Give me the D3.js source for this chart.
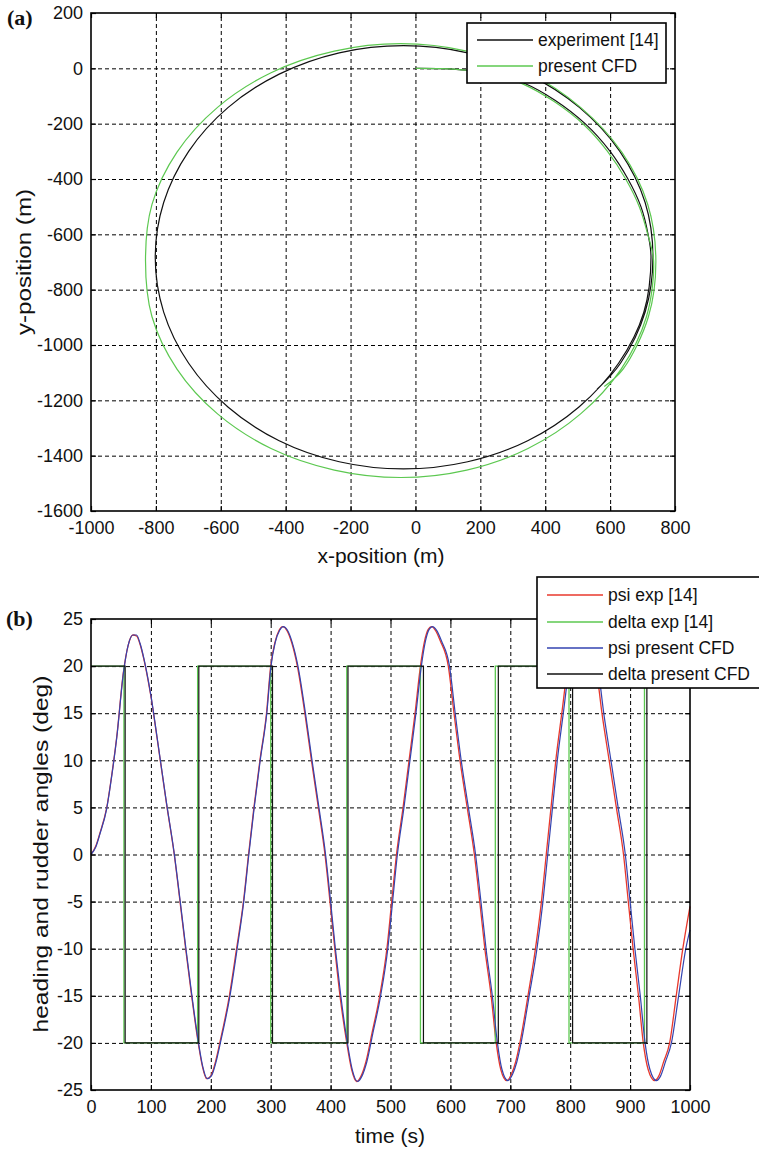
<!DOCTYPE html>
<html>
<head>
<meta charset="utf-8">
<script src="https://cdn.jsdelivr.net/npm/d3@7/dist/d3.min.js"></script>
<style>
body { margin:0; background:#fff; }
svg { display:block; font-family:"Liberation Sans", Arial, sans-serif; }
.grid line { stroke:#000; stroke-width:1; stroke-dasharray:4,3; }
.grid path { display:none; }
.ax path { display:none; }
.ax line { stroke:#000; stroke-width:1.2; }
.ax text { font-size:18px; fill:#111; }
</style>
</head>
<body>
<svg id="chart" width="759" height="1152"></svg>
<script>
// ---- (a) turning circle track, x/y in metres ----
var xTicksA = [-1000,-800,-600,-400,-200,0,200,400,600,800];
var yTicksA = [-1600,-1400,-1200,-1000,-800,-600,-400,-200,0,200];

var expTrack = [[0,0],[80,-1],[160,-7],[250,-23],[332,-52],[430,-115],[523,-200],[600,-300],[655,-400],[695,-500],[717,-600],[726,-683],
  [704,-881],[626,-1066],[504,-1224],[346,-1346],[161,-1422],[-37,-1448],[-235,-1422],[-420,-1346],[-578,-1224],[-699,-1066],
  [-776,-881],[-802,-683],[-776,-485],[-699,-300],[-578,-142],[-420,-21],[-235,56],[-37,82],[161,56],[346,-21],[506,-142],
  [630,-300],[708,-485],[732,-683],[708,-881],[632,-1066],[560,-1160]];

var cfdTrack = [[0,0],[80,-1],[160,-7],[250,-25],[332,-57],[430,-122],[520,-205],[592,-300],[648,-400],[690,-500],[716,-600],[734,-695],
  [712,-898],[634,-1087],[509,-1249],[347,-1374],[158,-1452],[-45,-1479],[-250,-1452],[-445,-1374],[-610,-1249],[-735,-1087],
  [-812,-898],[-832,-695],[-812,-492],[-735,-303],[-610,-141],[-445,-16],[-250,62],[-45,89],[158,62],[347,-16],[509,-141],
  [636,-303],[716,-492],[741,-695],[718,-898],[640,-1087],[582,-1150]];

// ---- (b) zig-zag manoeuvre ----
var timeTicks = [0,100,200,300,400,500,600,700,800,900,1000];
var angleTicks = [-25,-20,-15,-10,-5,0,5,10,15,20,25];

var psiExp = [[0,0],[8,0.9],[15,2.3],[26,4.9],[35,8.6],[43,12.5],[54,19.3],[62,22.2],[70,23.3],[76,23.2],[82,22.3],[88,20.8],[95,18.6],
  [100,16.8],[110,12.5],[126,5.4],[139,0],[148.6,-5],[158,-10],[168,-15],[179,-20],[186,-22.5],[193,-23.8],[200,-23.5],[207,-22.2],[215,-20],[231,-15],
  [243,-10],[254.5,-5],[263,0],[272,5],[282,10],[293,15],[300,20],[307,22.5],[314,23.8],[320,24.2],[327,23.8],[335,22.5],[344.5,20],
  [357,15],[368,10],[379.5,5],[390.6,0],[399,-5],[407,-10],[415.7,-15],[427,-20],[435,-22.8],[443.5,-24.1],[451,-23.5],[459,-22],
  [469,-19],[482,-15],[494,-10],[502,-5],[510,0],[521,5],[531,10],[541,15],[550,20],[557,22.7],[563,23.9],[568.6,24.2],[575,23.8],
  [583,22.7],[596.5,20],[606,15],[616,10],[628,5],[640,0],[649,-5],[657.5,-10],[668,-15],[676.5,-20],[684,-22.8],[694,-24],
  [702,-23.3],[709,-22],[716,-20],[729.5,-15],[742,-10],[752,-5],[760,0],[768,5],[776,10],[786,15],[796,20],[804,22.6],[812,23.9],
  [819,24.1],[826,23.8],[834,22.6],[843,20],[853,15],[865,10],[877,5],[889,0],[897,-5],[905,-10],[914,-15],[922,-20],[930,-22.8],
  [941,-24],[948,-23.5],[956,-22],[966,-20],[977,-15],[988,-10],[1000,-5.5]];

var psiCfd = [[0,0],[8,0.8],[15,2.2],[26,4.8],[35,8.5],[43,12.4],[54,19.2],[62,22.2],[70,23.3],[76,23.3],[82,22.4],[88,20.9],[95,18.7],
  [100,16.9],[110,12.6],[126,5.5],[139,0.1],[149,-5],[158.5,-10],[168.5,-15],[179.5,-20],[186.5,-22.5],[194,-23.8],[201,-23.5],[208,-22.2],[216,-20],[232,-15],
  [244,-10],[255,-5],[263.5,0],[272.5,5],[282.5,10],[293.5,15],[300.5,20],[307.5,22.5],[315,23.8],[321,24.2],[328,23.8],[336,22.5],[345.5,20],
  [358,15],[369,10],[380.5,5],[391.6,0],[400,-5],[408,-10],[417,-15],[428,-20],[436,-22.8],[445,-24.1],[452.5,-23.5],[460.5,-22],
  [470.5,-19],[483.5,-15],[495.5,-10],[503.5,-5],[511.5,0],[522.5,5],[532.5,10],[542.5,15],[551.5,20],[558.5,22.7],[564.5,23.9],[570,24.2],[577,23.8],
  [585,22.7],[598.5,20],[608,15],[618,10],[630,5],[642,0],[651,-5],[659.5,-10],[670,-15],[678.5,-20],[686,-22.8],[696,-24],
  [704,-23.3],[711,-22],[718,-20],[731.5,-15],[744.5,-10],[754.5,-5],[762.5,0],[770.5,5],[778.5,10],[788.5,15],[798.5,20],[806.5,22.6],[814.5,23.9],
  [821.5,24.1],[828.5,23.8],[837,22.6],[846,20],[856,15],[868,10],[880,5],[892,0],[900,-5],[908,-10],[917,-15],[925,-20],[933,-22.8],
  [944,-24],[951,-23.5],[959,-22],[969,-20],[981,-15],[993,-10],[1000,-8]];

// rudder angle switches [time, new angle]
var deltaExp = [[0,20],[55,-20],[178,20],[300,-20],[427,20],[550,-20],[675,20],[798,-20],[924,20],[1000,20]];
var deltaCfd = [[0,20],[57,-20],[180,20],[303,-20],[429,20],[555,-20],[680,20],[804,-20],[928,20],[1000,20]];

var svg = d3.select('#chart');
var fmt = function(d){ return String(d); };   // plain hyphen minus like the original

function frame(g, x, y, xt, yt) {
	var x0 = x.range()[0], x1 = x.range()[1], y0 = y.range()[0], y1 = y.range()[1];
	g.append('g').attr('class','grid').attr('transform','translate(0,'+y0+')')
		.call(d3.axisBottom(x).tickValues(xt.slice(1,-1)).tickSize(-(y0-y1)).tickFormat(''));
	g.append('g').attr('class','grid').attr('transform','translate('+x0+',0)')
		.call(d3.axisLeft(y).tickValues(yt.slice(1,-1)).tickSize(-(x1-x0)).tickFormat(''));
}

function axes(g, x, y, xt, yt) {
	var x0 = x.range()[0], x1 = x.range()[1], y0 = y.range()[0], y1 = y.range()[1];
	g.append('g').attr('class','ax').attr('transform','translate(0,'+y0+')')
		.call(d3.axisBottom(x).tickValues(xt).tickSize(-5).tickPadding(10).tickFormat(fmt));
	g.append('g').attr('class','ax').attr('transform','translate(0,'+y1+')')
		.call(d3.axisTop(x).tickValues(xt).tickSize(-5).tickFormat(''));
	g.append('g').attr('class','ax').attr('transform','translate('+x0+',0)')
		.call(d3.axisLeft(y).tickValues(yt).tickSize(-5).tickPadding(8).tickFormat(fmt));
	g.append('g').attr('class','ax').attr('transform','translate('+x1+',0)')
		.call(d3.axisRight(y).tickValues(yt).tickSize(-5).tickFormat(''));
	g.selectAll('.ax text').attr('font-family','"Liberation Sans", Arial, sans-serif');
	g.append('rect').attr('x',x0).attr('y',y1).attr('width',x1-x0).attr('height',y0-y1)
		.attr('fill','none').attr('stroke','#000').attr('stroke-width',1.6);
}

function legend(g, x, y, w, h, items) {
	g.append('rect').attr('x',x).attr('y',y).attr('width',w).attr('height',h)
		.attr('fill','#fff').attr('stroke','#000').attr('stroke-width',1.6);
	items.forEach(function(it, i) {
		var yy = y + it.dy;
		g.append('line').attr('x1',x+10).attr('x2',x+66).attr('y1',yy).attr('y2',yy)
			.attr('stroke',it.color).attr('stroke-width',1.3);
		g.append('text').attr('x',x+71).attr('y',yy).attr('dy','0.35em')
			.attr('font-size','17.5px').attr('fill','#111').text(it.label);
	});
}

// ---------- panel (a) ----------
var xA = d3.scaleLinear().domain([-1000,800]).range([91,675]);
var yA = d3.scaleLinear().domain([-1600,200]).range([511,13]);
var gA = svg.append('g');
frame(gA, xA, yA, xTicksA, yTicksA);

var lineA = d3.line().x(function(d){ return xA(d[0]); }).y(function(d){ return yA(d[1]); })
	.curve(d3.curveCatmullRom.alpha(0.5));
gA.append('path').datum(expTrack).attr('d',lineA).attr('fill','none').attr('stroke','#111').attr('stroke-width',1.2);
gA.append('path').datum(cfdTrack).attr('d',lineA).attr('fill','none').attr('stroke','#5cc850').attr('stroke-width',1.2);

axes(gA, xA, yA, xTicksA, yTicksA);
legend(gA, 467, 23, 199, 60, [
	{label:'experiment [14]', color:'#111', dy:17},
	{label:'present CFD', color:'#5cc850', dy:43}
]);

gA.append('text').attr('x',381).attr('y',563).attr('text-anchor','middle')
	.attr('font-size','21px').attr('fill','#111').text('x-position (m)');
gA.append('text').attr('transform','translate(24,262) rotate(-90)').attr('text-anchor','middle')
	.attr('dy','0.35em').attr('font-size','21px').attr('fill','#111')
	.attr('textLength',146).attr('lengthAdjust','spacingAndGlyphs').text('y-position (m)');
gA.append('text').attr('x',7).attr('y',25).attr('font-family','"Liberation Serif", "Times New Roman", serif')
	.attr('font-weight','bold').attr('font-size','22px').attr('fill','#111').text('(a)');

// ---------- panel (b) ----------
var xB = d3.scaleLinear().domain([0,1000]).range([91,690]);
var yB = d3.scaleLinear().domain([-25,25]).range([1090,619]);
var gB = svg.append('g');
frame(gB, xB, yB, timeTicks, angleTicks);

var lineB = d3.line().x(function(d){ return xB(d[0]); }).y(function(d){ return yB(d[1]); })
	.curve(d3.curveMonotoneX);
var stepB = d3.line().x(function(d){ return xB(d[0]); }).y(function(d){ return yB(d[1]); })
	.curve(d3.curveStepAfter);

gB.append('path').datum(psiExp).attr('d',lineB).attr('fill','none').attr('stroke','#e8382c').attr('stroke-width',1.3);
gB.append('path').datum(deltaExp).attr('d',stepB).attr('fill','none').attr('stroke','#5cc850').attr('stroke-width',1.3);
gB.append('path').datum(psiCfd).attr('d',lineB).attr('fill','none').attr('stroke','#3343b0').attr('stroke-width',1.2);
gB.append('path').datum(deltaCfd).attr('d',stepB).attr('fill','none').attr('stroke','#111').attr('stroke-width',1.2);

axes(gB, xB, yB, timeTicks, angleTicks);
legend(gB, 537, 577, 224, 111, [
	{label:'psi exp [14]', color:'#e8382c', dy:18},
	{label:'delta exp [14]', color:'#5cc850', dy:45},
	{label:'psi present CFD', color:'#3343b0', dy:71},
	{label:'delta present CFD', color:'#111', dy:97}
]);

gB.append('text').attr('x',390).attr('y',1143).attr('text-anchor','middle')
	.attr('font-size','21px').attr('fill','#111').text('time (s)');
gB.append('text').attr('transform','translate(41,854) rotate(-90)').attr('text-anchor','middle')
	.attr('dy','0.35em').attr('font-size','21px').attr('fill','#111')
	.attr('textLength',357).attr('lengthAdjust','spacingAndGlyphs').text('heading and rudder angles (deg)');
gB.append('text').attr('x',6).attr('y',626).attr('font-family','"Liberation Serif", "Times New Roman", serif')
	.attr('font-weight','bold').attr('font-size','22px').attr('fill','#111').text('(b)');
</script>
</body>
</html>
